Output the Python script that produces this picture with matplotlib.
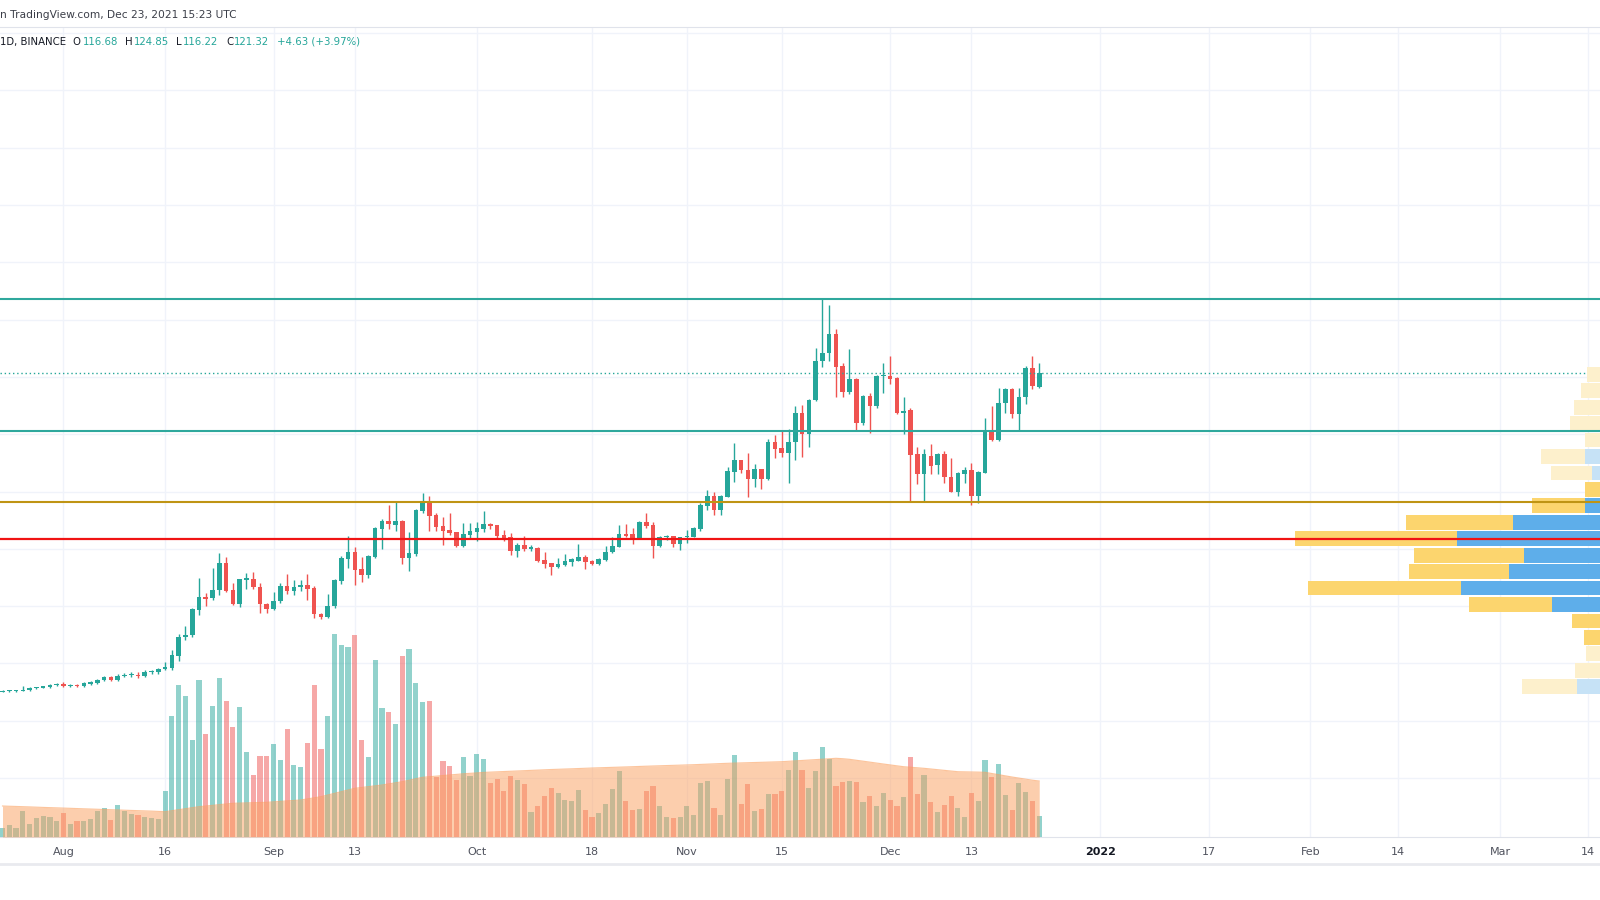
import numpy as np
import pandas as pd
import matplotlib
matplotlib.use("Agg")
import matplotlib.pyplot as plt
import matplotlib.dates as mdates
from matplotlib.lines import Line2D

# ── data: AVAX/USDT daily, 2021-07-23 .. 2021-12-23 ─────────────────
start_date = "2021-07-23"

opens = [
    10.1, 10.3, 10.3, 10.4, 10.7, 11.3, 11.6, 11.7, 12.4, 13.0,
    12.1, 12.6, 12.1, 12.9, 13.1, 14.1, 15.3, 14.1, 15.5, 15.9,
    16.0, 15.6, 17.0, 17.2, 18.0, 18.4, 22.7, 29.3, 29.8, 38.5,
    43.3, 42.8, 45.7, 55.0, 45.6, 40.8, 49.3, 49.6, 46.7, 40.8,
    38.9, 41.8, 47.2, 45.4, 46.6, 47.5, 46.4, 37.3, 36.3, 39.9,
    48.7, 56.5, 58.9, 52.9, 50.8, 57.2, 67.1, 69.7, 68.4, 69.9,
    56.7, 58.2, 73.3, 76.2, 71.8, 68.0, 66.6, 65.8, 61.0, 65.0,
    65.9, 66.9, 68.6, 68.3, 64.8, 64.0, 59.4, 61.4, 60.1, 60.2,
    56.1, 55.0, 53.6, 54.4, 55.5, 55.8, 57.1, 55.8, 54.6, 56.1,
    58.8, 60.8, 65.2, 65.2, 63.7, 69.5, 68.3, 61.0, 64.0, 64.5,
    61.7, 64.0, 64.3, 66.8, 74.9, 78.5, 73.6, 78.0, 87.0, 91.0,
    87.5, 84.3, 87.8, 84.3, 97.4, 95.1, 93.4, 97.2, 107.3, 100.1,
    111.8, 125.7, 128.3, 134.9, 123.8, 114.9, 119.3, 104.1, 113.4, 109.9,
    120.3, 120.4, 119.8, 107.6, 108.5, 93.1, 86.0, 92.5, 89.3, 93.1,
    85.2, 80.0, 86.1, 87.5, 78.5, 86.6, 100.9, 98.0, 110.8, 115.8,
    107.1, 113.1, 123.0, 116.68,
]
highs = [
    10.6, 10.6, 10.7, 12.3, 11.7, 11.9, 12.0, 12.8, 13.3, 13.7,
    12.9, 12.9, 13.4, 14.0, 14.5, 15.5, 15.8, 16.3, 16.8, 17.2,
    16.9, 17.9, 17.6, 18.5, 20.5, 24.7, 30.3, 33.1, 39.2, 49.7,
    44.5, 53.2, 58.5, 57.0, 48.0, 49.6, 51.5, 51.8, 48.0, 41.2,
    45.0, 48.0, 51.1, 49.1, 49.1, 51.1, 47.0, 37.6, 44.1, 49.5,
    57.5, 64.5, 60.5, 57.3, 57.9, 67.8, 70.3, 75.3, 76.4, 70.1,
    65.9, 73.8, 79.6, 78.5, 72.4, 71.2, 72.6, 66.0, 69.1, 68.9,
    69.5, 73.2, 69.0, 68.5, 66.6, 65.7, 62.0, 64.5, 61.5, 60.5,
    58.8, 55.2, 56.7, 58.1, 56.8, 61.7, 57.9, 56.1, 56.8, 61.0,
    64.0, 68.3, 68.7, 67.2, 69.7, 72.6, 69.3, 64.5, 64.9, 64.5,
    64.2, 66.6, 67.8, 75.9, 80.6, 80.0, 78.8, 88.7, 96.9, 91.2,
    93.6, 89.5, 87.9, 98.2, 99.8, 101.5, 101.7, 109.9, 110.2, 112.2,
    130.0, 147.1, 145.1, 136.6, 124.8, 129.8, 119.5, 113.6, 114.3, 120.7,
    125.0, 127.3, 120.0, 112.9, 109.1, 95.7, 94.8, 96.5, 93.3, 94.3,
    91.6, 86.7, 88.7, 89.9, 87.3, 105.6, 109.9, 116.0, 116.3, 116.3,
    116.0, 123.8, 127.3, 124.85,
]
lows = [
    10.0, 10.1, 10.0, 10.3, 10.3, 11.0, 11.4, 11.5, 12.2, 11.9,
    11.8, 11.8, 11.9, 12.4, 13.0, 13.8, 13.9, 13.9, 15.2, 15.4,
    14.8, 15.4, 16.5, 16.3, 17.8, 17.6, 21.0, 28.2, 29.2, 36.9,
    40.2, 42.2, 43.9, 45.1, 40.5, 39.8, 45.9, 46.1, 37.7, 37.7,
    38.7, 41.0, 44.1, 43.9, 45.4, 42.2, 35.8, 35.5, 35.8, 39.3,
    47.8, 53.2, 47.4, 48.6, 49.7, 56.7, 59.8, 67.0, 66.4, 54.6,
    52.3, 57.5, 72.6, 66.2, 66.4, 61.4, 64.8, 60.8, 60.8, 63.9,
    62.9, 66.0, 67.0, 63.7, 62.8, 57.9, 57.3, 59.4, 59.4, 55.4,
    53.2, 50.9, 53.2, 54.0, 54.0, 55.6, 52.9, 54.3, 54.3, 55.9,
    58.6, 60.5, 64.0, 61.7, 63.3, 67.2, 56.7, 60.8, 63.2, 60.5,
    59.6, 61.9, 64.0, 66.4, 73.6, 71.8, 71.8, 78.0, 83.5, 86.6,
    78.2, 81.5, 80.8, 84.0, 91.6, 92.2, 83.1, 91.0, 92.2, 95.7,
    111.5, 123.4, 125.7, 112.9, 112.9, 114.1, 101.3, 103.3, 100.6, 109.1,
    114.3, 117.6, 107.1, 100.1, 76.7, 82.6, 76.8, 86.0, 86.0, 82.9,
    79.8, 78.5, 82.9, 75.3, 76.1, 86.4, 97.8, 97.8, 107.3, 105.6,
    101.3, 110.6, 115.7, 116.22,
]
closes = [
    10.4, 10.5, 10.6, 10.8, 11.4, 11.7, 11.9, 12.5, 13.0, 12.1,
    12.6, 12.1, 13.2, 13.4, 14.3, 15.3, 14.1, 15.8, 16.1, 16.0,
    15.6, 17.2, 17.5, 18.0, 18.7, 22.9, 29.4, 30.0, 38.9, 43.3,
    42.6, 45.7, 55.0, 45.4, 40.8, 49.5, 49.6, 46.6, 40.8, 38.9,
    41.9, 47.2, 45.3, 46.6, 47.5, 46.1, 37.2, 36.1, 40.2, 49.1,
    56.7, 58.9, 52.6, 50.8, 57.5, 67.3, 69.7, 68.6, 69.7, 56.7,
    58.4, 73.6, 76.1, 71.6, 67.8, 66.4, 65.4, 61.0, 65.1, 66.2,
    67.2, 68.7, 68.0, 64.6, 63.1, 59.4, 61.4, 59.8, 60.3, 55.9,
    54.7, 53.6, 54.7, 55.6, 56.3, 57.1, 55.5, 54.6, 56.3, 59.0,
    61.0, 65.2, 64.5, 63.3, 69.5, 68.1, 61.0, 64.0, 64.5, 61.7,
    64.0, 64.5, 67.2, 75.3, 78.5, 73.6, 78.5, 87.3, 91.0, 87.5,
    84.3, 87.8, 84.3, 97.4, 94.8, 93.4, 97.4, 107.3, 100.1, 112.0,
    125.6, 128.5, 134.9, 123.6, 114.9, 119.3, 104.1, 113.4, 109.9, 120.4,
    120.5, 119.4, 107.6, 107.9, 92.8, 86.0, 93.1, 89.0, 93.1, 85.0,
    80.0, 86.4, 87.5, 78.5, 87.0, 101.1, 98.0, 110.8, 115.8, 107.1,
    113.1, 123.0, 116.69, 121.32,
]
volumes = [
    9.3, 12.0, 8.7, 26.0, 12.7, 18.7, 21.0, 19.7, 16.0, 24.0,
    12.7, 16.0, 16.0, 18.0, 26.0, 29.0, 17.0, 32.0, 26.0, 23.0,
    22.0, 20.0, 19.0, 18.0, 46.0, 120.7, 151.7, 140.7, 97.3, 157.0,
    103.3, 130.7, 159.0, 136.0, 109.7, 129.7, 85.0, 62.3, 81.0, 81.0,
    93.3, 77.0, 107.7, 72.0, 70.0, 94.3, 151.7, 88.3, 120.7, 203.0,
    192.3, 190.0, 202.0, 97.3, 80.0, 177.0, 128.7, 124.7, 112.7, 181.0,
    188.0, 154.0, 134.7, 136.0, 59.7, 76.3, 71.0, 57.0, 80.3, 61.0,
    83.0, 78.0, 54.3, 58.0, 46.0, 61.0, 57.0, 53.0, 25.0, 31.0,
    41.0, 49.0, 44.0, 37.0, 36.0, 47.0, 27.0, 20.0, 24.0, 32.7,
    48.0, 66.0, 36.0, 27.0, 28.0, 46.0, 51.0, 31.0, 20.0, 19.0,
    20.0, 31.0, 22.0, 54.0, 56.0, 29.0, 22.0, 58.0, 82.3, 33.0,
    53.0, 26.0, 28.0, 43.0, 43.0, 46.0, 67.3, 85.0, 67.0, 49.0,
    66.3, 90.3, 78.0, 51.0, 55.0, 56.0, 55.0, 35.0, 41.0, 31.0,
    44.0, 37.0, 31.0, 40.0, 80.0, 43.0, 62.0, 35.0, 25.0, 32.0,
    41.0, 29.0, 20.0, 44.0, 36.0, 77.0, 60.0, 73.3, 42.0, 27.0,
    54.0, 45.0, 36.0, 21.0,
]
volume_ma = [
    31.0, 30.8, 30.5, 30.3, 30.1, 29.8, 29.6, 29.4, 29.1, 28.9,
    28.7, 28.4, 28.2, 28.0, 27.7, 27.5, 27.3, 27.0, 26.8, 26.6,
    26.3, 26.1, 25.9, 25.6, 25.3, 26.3, 27.3, 28.3, 29.3, 30.3,
    31.0, 31.7, 32.3, 33.0, 33.7, 33.9, 34.1, 34.3, 34.5, 34.7,
    35.2, 35.6, 36.1, 36.5, 37.0, 38.1, 39.2, 40.3, 42.0, 43.7,
    45.4, 47.0, 48.7, 49.5, 50.3, 51.2, 52.0, 53.1, 54.2, 55.3,
    56.8, 58.2, 59.7, 60.3, 60.9, 61.5, 62.0, 62.6, 63.2, 63.7,
    64.3, 64.6, 64.9, 65.2, 65.5, 65.8, 66.1, 66.4, 66.7, 67.0,
    67.2, 67.5, 67.7, 68.0, 68.2, 68.5, 68.7, 69.0, 69.2, 69.5,
    69.7, 69.9, 70.1, 70.3, 70.6, 70.8, 71.0, 71.2, 71.4, 71.6,
    71.8, 72.0, 72.3, 72.6, 72.9, 73.1, 73.4, 73.7, 73.9, 74.1,
    74.3, 74.5, 74.7, 74.9, 75.1, 75.3, 75.7, 76.2, 76.6, 77.0,
    77.4, 77.8, 78.3, 78.7, 78.3, 77.7, 76.8, 75.8, 74.9, 73.9,
    73.0, 72.1, 71.2, 70.3, 69.8, 69.2, 68.7, 68.0, 67.3, 66.7,
    66.0, 65.3, 65.2, 65.0, 64.9, 64.7, 63.5, 62.4, 61.2, 60.0,
    58.9, 57.7, 56.8, 56.0,
]

# horizontal levels drawn on the chart
level_top = 147.2
level_mid = 101.3
level_gold = 76.5
level_red = 63.5
last_close = 121.32

# visible range volume profile rows (price of row bottom, total, up part)
vp_row_low = [9.0, 14.74, 20.48, 26.23, 31.97, 37.71, 43.45, 49.19, 54.94, 60.68,
              66.42, 72.16, 77.90, 83.65, 89.39, 95.13, 100.87, 106.61, 112.36, 118.10]
vp_total = [78.3, 25, 14.3, 16, 28, 131, 292, 191, 186, 305,
            194, 68.3, 15, 49, 59, 15, 30, 26, 19, 12.7]
vp_up = [23, 0, 0, 0, 0, 48.3, 139, 91.3, 75.7, 143.3,
         87.3, 15, 0, 7.7, 15, 0, 0, 0, 0, 0]
vp_value_area = [False, False, False, True, True, True, True, True, True, True,
                 True, True, True, False, False, False, False, False, False, False]
vp_row_step = 5.742

tick_dates = ["2021-08-01", "2021-08-16", "2021-09-01", "2021-09-13", "2021-10-01",
              "2021-10-18", "2021-11-01", "2021-11-15", "2021-12-01", "2021-12-13",
              "2022-01-01", "2022-01-17", "2022-02-01", "2022-02-14", "2022-03-01",
              "2022-03-14"]
tick_labels = ["Aug", "16", "Sep", "13", "Oct", "18", "Nov", "15", "Dec", "13",
               "2022", "17", "Feb", "14", "Mar", "14"]
price_grid = list(range(-20, 241, 20))

# ── styling ──────────────────────────────────────────────────────
UP = "#26a69a"
DOWN = "#ef5350"
GRID = "#f0f3fa"
TEXT = "#131722"

W, H = 1600, 900
fig = plt.figure(figsize=(16, 9), dpi=100)
fig.patch.set_facecolor("white")

top_px, bottom_px = 27, 837
rect = [0, (H - bottom_px) / H, 1, (bottom_px - top_px) / H]

dates = pd.date_range(start_date, periods=len(opens), freq="D")
x = mdates.date2num(dates)
x0 = mdates.date2num(pd.Timestamp(start_date))
xlim = (x0 - 0.369, x0 + 235.76)
ylim = (-40.56, 242.16)

o = np.array(opens)
h = np.array(highs)
l = np.array(lows)
c = np.array(closes)
up = c >= o
colors = np.where(up, UP, DOWN)

# background: grid + time axis
ax_bg = fig.add_axes(rect, label="bg")
ax_bg.set_xlim(*xlim)
ax_bg.set_ylim(*ylim)
for g in price_grid:
    ax_bg.axhline(g, color=GRID, lw=1.0, zorder=0)
tick_x = mdates.date2num(pd.to_datetime(tick_dates))
for tx in tick_x:
    ax_bg.axvline(tx, color=GRID, lw=1.0, zorder=0)
ax_bg.set_yticks([])
ax_bg.set_xticks(tick_x)
ax_bg.set_xticklabels(tick_labels, fontsize=8, color="#50535e")
for lab in ax_bg.get_xticklabels():
    if lab.get_text() == "2022":
        lab.set_fontweight("bold")
        lab.set_color(TEXT)
ax_bg.tick_params(axis="x", length=0, pad=7)
for side in ("top", "left", "right"):
    ax_bg.spines[side].set_visible(False)
ax_bg.spines["bottom"].set_color("#e0e3eb")
ax_bg.spines["bottom"].set_linewidth(0.8)

# volume pane overlay
ax_v = fig.add_axes(rect, label="vol")
ax_v.set_xlim(*xlim)
ax_v.set_ylim(0, bottom_px - top_px)
ax_v.patch.set_visible(False)
ax_v.set_axis_off()
ax_v.bar(x, volumes, width=0.76, color=colors, alpha=0.5, linewidth=0, zorder=1)
ax_v.fill_between(x, 0, volume_ma, color="#fb9f5d", alpha=0.5, linewidth=0, zorder=2)
ax_v.plot(x, volume_ma, color="#fb9f5d", lw=0.8, alpha=0.6, zorder=3)

# candles
ax = fig.add_axes(rect, label="price")
ax.set_xlim(*xlim)
ax.set_ylim(*ylim)
ax.patch.set_visible(False)
ax.set_axis_off()
ax.vlines(x, l, h, colors=colors, lw=1.0, zorder=2)
body_low = np.minimum(o, c)
body_h = np.maximum(np.abs(c - o), 0.4)
ax.bar(x, body_h, bottom=body_low, width=0.68, color=colors, linewidth=0, zorder=3)
ax.axhline(last_close, color=UP, lw=1.0, linestyle=(0, (1, 2)), zorder=4)

# volume profile + drawn levels on top
ax_vp = fig.add_axes(rect, label="vp")
ax_vp.set_xlim(W, 0)
ax_vp.set_ylim(*ylim)
ax_vp.patch.set_visible(False)
ax_vp.set_axis_off()
for low, tot, upv, va in zip(vp_row_low, vp_total, vp_up, vp_value_area):
    ycol = "#fcd56e" if va else "#fdf0cc"
    bcol = "#5eaeea" if va else "#c6e2f6"
    ax_vp.barh(low + 0.05 * vp_row_step, tot, height=0.9 * vp_row_step, left=0,
               align="edge", color=ycol, linewidth=0, zorder=1)
    if upv > 0:
        ax_vp.barh(low + 0.05 * vp_row_step, upv, height=0.9 * vp_row_step, left=0,
                   align="edge", color=bcol, linewidth=0, zorder=2)
ax_vp.axhline(level_top, color="#2fa89d", lw=1.5, zorder=5)
ax_vp.axhline(level_mid, color="#2fa89d", lw=1.5, zorder=5)
ax_vp.axhline(level_gold, color="#bf9414", lw=1.5, zorder=5)
ax_vp.axhline(level_red, color="#f01414", lw=1.6, zorder=5)

ax_bg.set_zorder(0)
ax_v.set_zorder(1)
ax.set_zorder(2)
ax_vp.set_zorder(3)

# ── header / legend ───────────────────────────────────────────────
def fx(px):
    return px / W


def fy(py):
    return 1 - py / H


fig.text(fx(0), fy(15), "n TradingView.com, Dec 23, 2021 15:23 UTC",
         fontsize=7.7, color="#3b3e48", va="center", ha="left")
fig.add_artist(Line2D([0, 1], [fy(26.5), fy(26.5)], color="#e0e3eb", lw=0.8))

legend_y = fy(41.7)
legend_fs = 7.3
fig.text(fx(0), legend_y, "1D, BINANCE", fontsize=legend_fs, color=TEXT, va="center", zorder=10)
legend_items = [
    (72.7, "O", 82.5, "116.68"),
    (125.0, "H", 133.5, "124.85"),
    (175.7, "L", 182.5, "116.22"),
    (226.0, "C", 234.0, "121.32"),
]
for lx, letter, vx, val in legend_items:
    fig.text(fx(lx), legend_y, letter, fontsize=legend_fs, color=TEXT, va="center", zorder=10)
    fig.text(fx(vx), legend_y, val, fontsize=legend_fs, color=UP, va="center", zorder=10)
fig.text(fx(276.7), legend_y, "+4.63 (+3.97%)", fontsize=legend_fs, color=UP, va="center", zorder=10)

# bottom border of the time scale
fig.add_artist(Line2D([0, 1], [fy(864), fy(864)], color="#e9eaef", lw=2.0))

fig.savefig("out.png", dpi=100, facecolor="white")
